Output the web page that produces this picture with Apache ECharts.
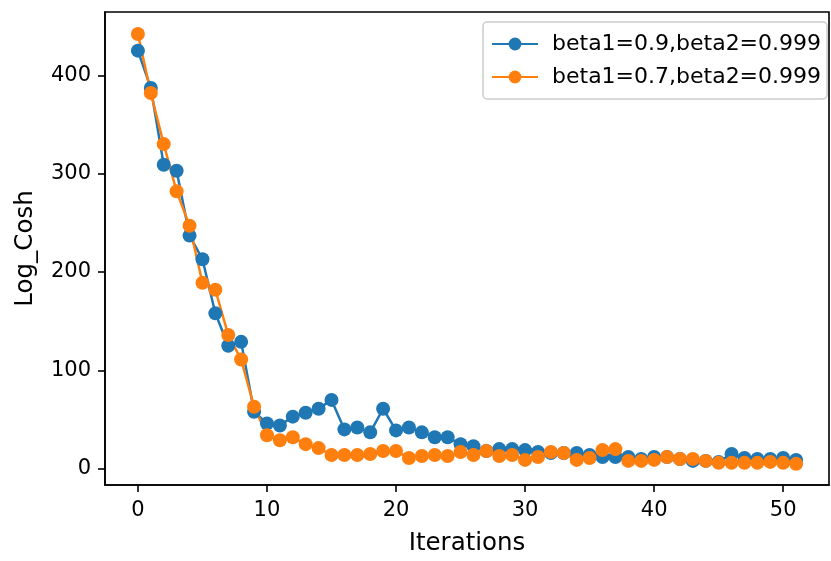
<!DOCTYPE html>
<html>
<head>
<meta charset="utf-8">
<script src="https://cdn.jsdelivr.net/npm/echarts@6/dist/echarts.min.js"></script>
<style>html,body{margin:0;padding:0;background:#fff}#c{width:831px;height:561px}</style>
</head>
<body>
<div id="c"></div>
<script>
const iterations = [0,1,2,3,4,5,6,7,8,9,10,11,12,13,14,15,16,17,18,19,20,21,22,23,24,25,26,27,28,29,30,31,32,33,34,35,36,37,38,39,40,41,42,43,44,45,46,47,48,49,50,51];
const seriesNames = ['beta1=0.9,beta2=0.999', 'beta1=0.7,beta2=0.999'];
const beta09 = [425,387,309,303,237,213,158,125,129,58,46,44,53,57,61,70,40,42,37,61,39,42,37,32,32,25,23,18,20,20,19,17,16,16,16,14,12,12,12,10,12,12,10,8,8,7,15,11,10,10,11,9];
const beta07 = [442,382,330,282,247,189,182,136,111,63,34,29,32,25,21,14,14,14,15,18,18,11,13,14,13,17,14,18,13,14,9,12,17,16,9,11,19,20,8,8,9,12,10,10,8,6,6,6,6,7,6,5];
const xTicks = [0,10,20,30,40,50];
const yTicks = [0,100,200,300,400];
const colors = ['#1f77b4', '#ff7f0e'];

const chart = echarts.init(document.getElementById('c'), null, {renderer: 'canvas'});
const font = 'DejaVu Sans';
function mk(name, vals, color) {
  return {
    name: name,
    type: 'line',
    data: iterations.map((x, i) => [x, vals[i]]),
    symbol: 'circle',
    symbolSize: 14,
    showAllSymbol: true,
    lineStyle: {color: color, width: 2.5},
    itemStyle: {color: color},
    emphasis: {disabled: true},
    animation: false
  };
}
const axisLineStyle = {show: true, onZero: false, lineStyle: {color: '#000', width: 1.6}};
chart.setOption({
  animation: false,
  textStyle: {fontFamily: font},
  grid: {left: 105, right: 2, top: 12, bottom: 71, show: true, borderColor: '#000', borderWidth: 1.6, backgroundColor: '#fff'},
  legend: {
    orient: 'vertical',
    left: 483, top: 22,
    padding: [11, 6, 11, 8],
    itemGap: 11,
    itemWidth: 46, itemHeight: 16,
    backgroundColor: 'rgba(255,255,255,0.8)',
    borderColor: '#cccccc', borderWidth: 1.5, borderRadius: 4,
    textStyle: {fontFamily: font, fontSize: 22, color: '#000', padding: [0,0,0,9]},
    data: seriesNames
  },
  xAxis: {
    type: 'value', min: -2.55, max: 53.55,
    name: 'Iterations', nameLocation: 'middle', nameGap: 46,
    nameTextStyle: {fontFamily: font, fontSize: 24.5, color: '#000'},
    axisLine: axisLineStyle,
    axisTick: {show: true, inside: false, length: 7, lineStyle: {color: '#000', width: 1.6}, customValues: xTicks},
    axisLabel: {fontFamily: font, fontSize: 21, color: '#000', margin: 15, customValues: xTicks},
    splitLine: {show: false}
  },
  yAxis: {
    type: 'value', min: -16.5, max: 464.3,
    name: 'Log_Cosh', nameLocation: 'middle', nameGap: 67,
    nameTextStyle: {fontFamily: font, fontSize: 24.5, color: '#000'},
    axisLine: axisLineStyle,
    axisTick: {show: true, inside: false, length: 7, lineStyle: {color: '#000', width: 1.6}, customValues: yTicks},
    axisLabel: {fontFamily: font, fontSize: 21, color: '#000', margin: 14, customValues: yTicks},
    splitLine: {show: false}
  },
  series: [mk(seriesNames[0], beta09, colors[0]), mk(seriesNames[1], beta07, colors[1])]
});
</script>
</body>
</html>
